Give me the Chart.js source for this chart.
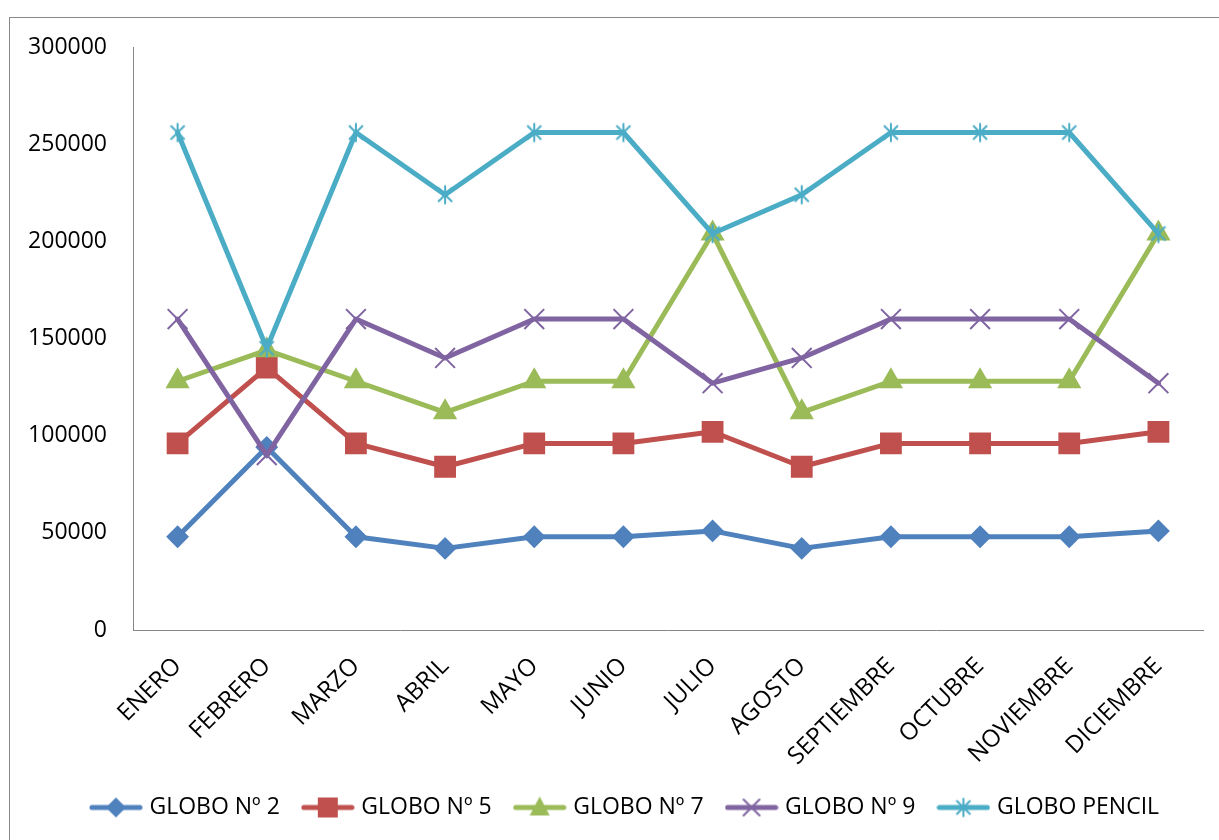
<!DOCTYPE html>
<html>
<head>
<meta charset="utf-8">
<script src="https://cdn.jsdelivr.net/npm/chart.js@4/dist/chart.umd.min.js"></script>
<style>
  body { margin: 0; background: #fff; overflow: hidden; }
  #frame { position: absolute; left: 9px; top: 17px; width: 2000px; height: 2000px; border: 1px solid #8a8a8a; }
  #box { position: absolute; left: 0; top: 0; width: 1219px; height: 840px; }
</style>
</head>
<body>
<div id="frame"></div>
<div id="box"><canvas id="myChart" width="1219" height="840"></canvas></div>
<script>
// datos
const meses = ['ENERO', 'FEBRERO', 'MARZO', 'ABRIL', 'MAYO', 'JUNIO', 'JULIO', 'AGOSTO', 'SEPTIEMBRE', 'OCTUBRE', 'NOVIEMBRE', 'DICIEMBRE'];
const series = ['GLOBO Nº 2', 'GLOBO Nº 5', 'GLOBO Nº 7', 'GLOBO Nº 9', 'GLOBO PENCIL'];
const globo2 = [48000, 94000, 48000, 42000, 48000, 48000, 51000, 42000, 48000, 48000, 48000, 51000];
const globo5 = [96000, 135000, 96000, 84000, 96000, 96000, 102000, 84000, 96000, 96000, 96000, 102000];
const globo7 = [128000, 144000, 128000, 112000, 128000, 128000, 204000, 112000, 128000, 128000, 128000, 204000];
const globo9 = [160000, 90000, 160000, 140000, 160000, 160000, 127000, 140000, 160000, 160000, 160000, 127000];
const globoPencil = [256000, 145000, 256000, 224000, 256000, 256000, 204000, 224000, 256000, 256000, 256000, 204000];
const yTicks = [0, 50000, 100000, 150000, 200000, 250000, 300000];

const colores = ['#4F81BD', '#C0504D', '#9BBB59', '#8064A2', '#4BACC6'];
const estilos = ['rectRot', 'rect', 'triangle', 'crossRot', 'star'];
const radios = [10, 14, 12, 14, 10];

// asterisco de 6 puntas como en Excel
function starImg(color) {
  const c = document.createElement('canvas');
  c.width = 22; c.height = 22;
  const g = c.getContext('2d');
  g.strokeStyle = color; g.lineWidth = 2;
  g.beginPath();
  g.moveTo(4, 4); g.lineTo(18, 18);
  g.moveTo(18, 4); g.lineTo(4, 18);
  g.moveTo(11, 1.5); g.lineTo(11, 20.5);
  g.stroke();
  return c;
}

function marker(g, i, x, y) {
  const color = colores[i];
  g.fillStyle = color; g.strokeStyle = color; g.lineWidth = 2;
  if (i == 0) {
    g.beginPath(); g.moveTo(x, y - 10); g.lineTo(x + 10, y); g.lineTo(x, y + 10); g.lineTo(x - 10, y); g.closePath(); g.fill();
  } else if (i == 1) {
    g.fillRect(x - 10, y - 10, 20, 20);
  } else if (i == 2) {
    g.beginPath(); g.moveTo(x, y - 11); g.lineTo(x + 10, y + 8); g.lineTo(x - 10, y + 8); g.closePath(); g.fill();
  } else if (i == 3) {
    g.beginPath(); g.moveTo(x - 8, y - 8); g.lineTo(x + 8, y + 8); g.moveTo(x + 8, y - 8); g.lineTo(x - 8, y + 8); g.stroke();
  } else {
    g.drawImage(starImg(color), x - 11, y - 11);
  }
}

// icono de leyenda: linea + marcador
function legendImg(i) {
  const c = document.createElement('canvas');
  c.width = 54; c.height = 24;
  const g = c.getContext('2d');
  g.strokeStyle = colores[i]; g.lineWidth = 5; g.lineCap = 'round';
  g.beginPath(); g.moveTo(3, 12); g.lineTo(51, 12); g.stroke();
  marker(g, i, 27, 12);
  return c;
}

const valores = [globo2, globo5, globo7, globo9, globoPencil];
const datasets = series.map((nombre, i) => ({
  label: nombre,
  data: valores[i],
  borderColor: colores[i],
  backgroundColor: colores[i],
  borderWidth: 5,
  borderJoinStyle: 'round',
  borderCapStyle: 'round',
  tension: 0,
  pointStyle: i == 4 ? starImg(colores[i]) : estilos[i],
  pointRadius: radios[i],
  pointBorderWidth: 2,
  order: 4 - i
}));

// la leyenda del original esta un poco corrida a la derecha
const moverLeyenda = {
  id: 'moverLeyenda',
  afterLayout(chart) {
    chart.legend.left += 25;
    chart.legend.right += 25;
  }
};

new Chart(document.getElementById('myChart'), {
  type: 'line',
  data: { labels: meses, datasets: datasets },
  plugins: [moverLeyenda],
  options: {
    responsive: false,
    animation: false,
    events: [],
    layout: { padding: { left: 0, right: 16, top: 47, bottom: 11 } },
    plugins: {
      tooltip: { enabled: false },
      legend: {
        position: 'bottom',
        labels: {
          color: '#000',
          font: { family: 'Open Sans', size: 23 },
          padding: 26,
          usePointStyle: true,
          pointStyleWidth: 44,
          generateLabels: () => series.map((nombre, i) => ({
            text: nombre,
            pointStyle: legendImg(i),
            fillStyle: colores[i],
            strokeStyle: colores[i],
            lineWidth: 0,
            datasetIndex: i
          }))
        }
      }
    },
    scales: {
      x: {
        offset: true,
        grid: { drawOnChartArea: false, drawTicks: false, offset: true },
        border: { color: '#868686', width: 1 },
        ticks: { color: '#000', font: { family: 'Open Sans', size: 24 }, minRotation: 45, maxRotation: 45, autoSkip: false, padding: 22 },
        afterFit: (s) => { s.height = 140; }
      },
      y: {
        min: 0,
        max: 300000,
        grid: { drawOnChartArea: false, drawTicks: false },
        border: { color: '#868686', width: 1 },
        afterBuildTicks: (s) => { s.ticks = yTicks.map(v => ({ value: v })); },
        ticks: { color: '#000', font: { family: 'Open Sans', size: 23 }, padding: 26, callback: (v) => String(v) },
        afterFit: (s) => { s.width = 133; }
      }
    }
  }
});
</script>
</body>
</html>
